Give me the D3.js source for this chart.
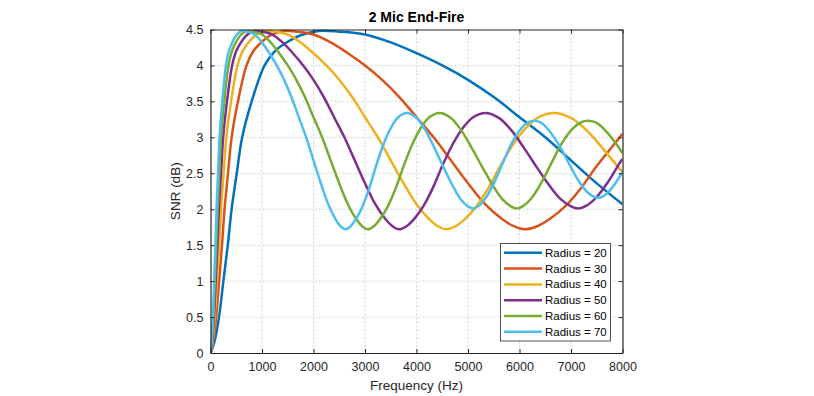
<!DOCTYPE html>
<html>
<head>
<meta charset="utf-8">
<script src="https://cdn.jsdelivr.net/npm/d3@7"></script>
<style>
  body { margin: 0; background: #fff; }
  svg { font-family: "Liberation Sans", Arial, Helvetica, sans-serif; }
</style>
</head>
<body>
<svg id="chart" width="814" height="396"></svg>
<script>
// series: [frequency (Hz), SNR (dB)]
var radius20 = [[0,0],[75,0.15],[165,0.5],[250,1.0],[335,1.5],[410,2.0],[510,2.5],[615,3.0],[800,3.5],[1050,4.0],[1250,4.2],[1500,4.33],[1750,4.42],[2100,4.48],[2500,4.47],[3000,4.43],[3500,4.32],[4000,4.17],[4500,4.0],[5000,3.8],[5500,3.56],[6000,3.28],[6500,3.0],[7000,2.68],[7500,2.36],[8000,2.07]];
var radius30 = [[0,0],[50,0.15],[110,0.5],[167,1.0],[223,1.5],[273,2.0],[340,2.5],[410,3.0],[533,3.5],[700,4.0],[833,4.2],[1000,4.33],[1167,4.42],[1400,4.48],[1667,4.47],[2000,4.43],[2333,4.32],[2667,4.17],[3000,4.0],[3333,3.8],[3667,3.56],[4000,3.28],[4333,3.0],[4667,2.68],[5000,2.36],[5333,2.07],[5667,1.86],[5900,1.76],[6100,1.72],[6333,1.76],[6600,1.87],[6900,2.05],[7200,2.3],[7500,2.6],[7833,2.9],[8000,3.05]];
var radius40 = [[0,0],[38,0.15],[82,0.5],[125,1.0],[168,1.5],[205,2.0],[255,2.5],[308,3.0],[400,3.5],[525,4.0],[625,4.2],[750,4.33],[875,4.42],[1050,4.48],[1250,4.47],[1500,4.43],[1750,4.32],[2000,4.17],[2250,4.0],[2500,3.8],[2750,3.56],[3000,3.28],[3250,3.0],[3500,2.68],[3750,2.36],[4000,2.07],[4250,1.86],[4425,1.76],[4575,1.72],[4750,1.76],[4950,1.87],[5175,2.05],[5400,2.3],[5625,2.6],[5875,2.9],[6125,3.13],[6375,3.28],[6675,3.34],[7000,3.27],[7300,3.1],[7600,2.86],[7900,2.6],[8000,2.52]];
var radius50 = [[0,0],[30,0.15],[66,0.5],[100,1.0],[134,1.5],[164,2.0],[204,2.5],[246,3.0],[320,3.5],[420,4.0],[500,4.2],[600,4.33],[700,4.42],[840,4.48],[1000,4.47],[1200,4.43],[1400,4.32],[1600,4.17],[1800,4.0],[2000,3.8],[2200,3.56],[2400,3.28],[2600,3.0],[2800,2.68],[3000,2.36],[3200,2.07],[3400,1.86],[3540,1.76],[3660,1.72],[3800,1.76],[3960,1.87],[4140,2.05],[4320,2.3],[4500,2.6],[4700,2.9],[4900,3.13],[5100,3.28],[5340,3.34],[5600,3.27],[5840,3.1],[6080,2.86],[6320,2.6],[6560,2.35],[6800,2.14],[7000,2.04],[7140,2.01],[7300,2.05],[7500,2.17],[7720,2.38],[7960,2.66],[8000,2.7]];
var radius60 = [[0,0],[25,0.15],[55,0.5],[83,1.0],[112,1.5],[137,2.0],[170,2.5],[205,3.0],[267,3.5],[350,4.0],[417,4.2],[500,4.33],[583,4.42],[700,4.48],[833,4.47],[1000,4.43],[1167,4.32],[1333,4.17],[1500,4.0],[1667,3.8],[1833,3.56],[2000,3.28],[2167,3.0],[2333,2.68],[2500,2.36],[2667,2.07],[2833,1.86],[2950,1.76],[3050,1.72],[3167,1.76],[3300,1.87],[3450,2.05],[3600,2.3],[3750,2.6],[3917,2.9],[4083,3.13],[4250,3.28],[4450,3.34],[4667,3.27],[4867,3.1],[5067,2.86],[5267,2.6],[5467,2.35],[5667,2.14],[5833,2.04],[5950,2.01],[6083,2.05],[6250,2.17],[6433,2.38],[6633,2.66],[6833,2.93],[7033,3.12],[7200,3.21],[7333,3.23],[7500,3.2],[7700,3.07],[7917,2.87],[8000,2.78]];
var radius70 = [[0,0],[21,0.15],[47,0.5],[71,1.0],[96,1.5],[117,2.0],[146,2.5],[176,3.0],[229,3.5],[300,4.0],[357,4.2],[429,4.33],[500,4.42],[600,4.48],[714,4.47],[857,4.43],[1000,4.32],[1143,4.17],[1286,4.0],[1429,3.8],[1571,3.56],[1714,3.28],[1857,3.0],[2000,2.68],[2143,2.36],[2286,2.07],[2429,1.86],[2529,1.76],[2614,1.72],[2714,1.76],[2829,1.87],[2957,2.05],[3086,2.3],[3214,2.6],[3357,2.9],[3500,3.13],[3643,3.28],[3814,3.34],[4000,3.27],[4171,3.1],[4343,2.86],[4514,2.6],[4686,2.35],[4857,2.14],[5000,2.04],[5100,2.01],[5214,2.05],[5357,2.17],[5514,2.38],[5686,2.66],[5857,2.93],[6029,3.12],[6171,3.21],[6286,3.23],[6429,3.2],[6600,3.07],[6786,2.87],[6971,2.62],[7143,2.4],[7314,2.24],[7457,2.17],[7557,2.16],[7671,2.2],[7829,2.33],[8000,2.52]];

var seriesNames = ["Radius = 20","Radius = 30","Radius = 40","Radius = 50","Radius = 60","Radius = 70"];
var seriesData = [radius20, radius30, radius40, radius50, radius60, radius70];
var colors = ["#0072BD","#D95319","#EDB120","#7E2F8E","#77AC30","#4DBEEE"];
var xTicks = [0,1000,2000,3000,4000,5000,6000,7000,8000];
var yTicks = [0,0.5,1,1.5,2,2.5,3,3.5,4,4.5];

var svg = d3.select("#chart");
var plotLeft = 210.5, plotRight = 622.5, plotTop = 29.5, plotBottom = 353;

var x = d3.scaleLinear().domain([0, 8000]).range([plotLeft, plotRight]);
var y = d3.scaleLinear().domain([0, 4.5]).range([plotBottom, plotTop]);

// grid
var grid = svg.append("g").attr("stroke", "#c8c8c8").attr("stroke-width", 0.8).attr("stroke-dasharray", "2,2");
grid.selectAll(".gx").data(xTicks.slice(1, -1)).enter().append("line")
  .attr("x1", function(d){ return x(d); }).attr("x2", function(d){ return x(d); })
  .attr("y1", plotTop).attr("y2", plotBottom);
grid.selectAll(".gy").data(yTicks.slice(1, -1)).enter().append("line")
  .attr("y1", function(d){ return y(d); }).attr("y2", function(d){ return y(d); })
  .attr("x1", plotLeft).attr("x2", plotRight);

// curves
svg.append("defs").append("clipPath").attr("id", "clip")
  .append("rect").attr("x", plotLeft).attr("y", plotTop - 2).attr("width", plotRight - plotLeft).attr("height", plotBottom - plotTop + 2);

var line = d3.line()
  .x(function(d){ return x(d[0]); })
  .y(function(d){ return y(d[1]); })
  .curve(d3.curveCatmullRom.alpha(0.5));

svg.append("g").attr("clip-path", "url(#clip)")
  .selectAll("path").data(seriesData).enter().append("path")
  .attr("fill", "none")
  .attr("stroke", function(d, i){ return colors[i]; })
  .attr("stroke-width", 2.5)
  .attr("stroke-linejoin", "round")
  .attr("d", line);

// axes (ticks inside, box on)
svg.append("g").attr("transform", "translate(0," + plotBottom + ")")
  .call(d3.axisBottom(x).tickValues(xTicks).tickSizeInner(-4).tickSizeOuter(0).tickPadding(9).tickFormat(d3.format("d")));
svg.append("g").attr("transform", "translate(" + plotLeft + ",0)")
  .call(d3.axisLeft(y).tickValues(yTicks).tickSizeInner(-4).tickSizeOuter(0).tickPadding(7).tickFormat(d3.format("")));
svg.append("g").attr("transform", "translate(0," + plotTop + ")")
  .call(d3.axisTop(x).tickValues(xTicks).tickSizeInner(-4).tickSizeOuter(0).tickFormat(""));
svg.append("g").attr("transform", "translate(" + plotRight + ",0)")
  .call(d3.axisRight(y).tickValues(yTicks).tickSizeInner(-4).tickSizeOuter(0).tickFormat(""));

svg.selectAll(".domain").attr("stroke", "#262626").attr("stroke-width", 1.2);
svg.selectAll(".tick line").attr("stroke", "#262626");
svg.selectAll(".tick text").attr("fill", "#262626").style("font-size", "12.5px")
  .style("font-family", "'Liberation Sans', Arial, sans-serif");

// titles
svg.append("text").attr("x", (plotLeft + plotRight) / 2).attr("y", 22)
  .attr("text-anchor", "middle").style("font-weight", "bold").style("font-size", "14px")
  .attr("fill", "#000").text("2 Mic End-Fire");
svg.append("text").attr("x", (plotLeft + plotRight) / 2).attr("y", 390)
  .attr("text-anchor", "middle").style("font-size", "13.5px").attr("fill", "#262626")
  .text("Frequency (Hz)");
svg.append("text").attr("transform", "translate(180," + ((plotTop + plotBottom) / 2) + ") rotate(-90)")
  .attr("text-anchor", "middle").style("font-size", "13.5px").attr("fill", "#262626")
  .text("SNR (dB)");

// legend
var legend = svg.append("g");
legend.append("rect").attr("x", 500.5).attr("y", 243.5).attr("width", 110).attr("height", 97.5)
  .attr("fill", "#fff").attr("stroke", "#262626").attr("stroke-width", 0.8);
var items = legend.selectAll(".item").data(seriesNames).enter().append("g")
  .attr("transform", function(d, i){ return "translate(0," + (252.8 + i * 15.8) + ")"; });
items.append("line").attr("x1", 504).attr("x2", 542).attr("y1", 0).attr("y2", 0)
  .attr("stroke", function(d, i){ return colors[i]; }).attr("stroke-width", 2.5);
items.append("text").attr("x", 545).attr("y", 0).attr("dy", "0.35em")
  .style("font-size", "11.5px").attr("fill", "#000").text(function(d){ return d; });
</script>
</body>
</html>
